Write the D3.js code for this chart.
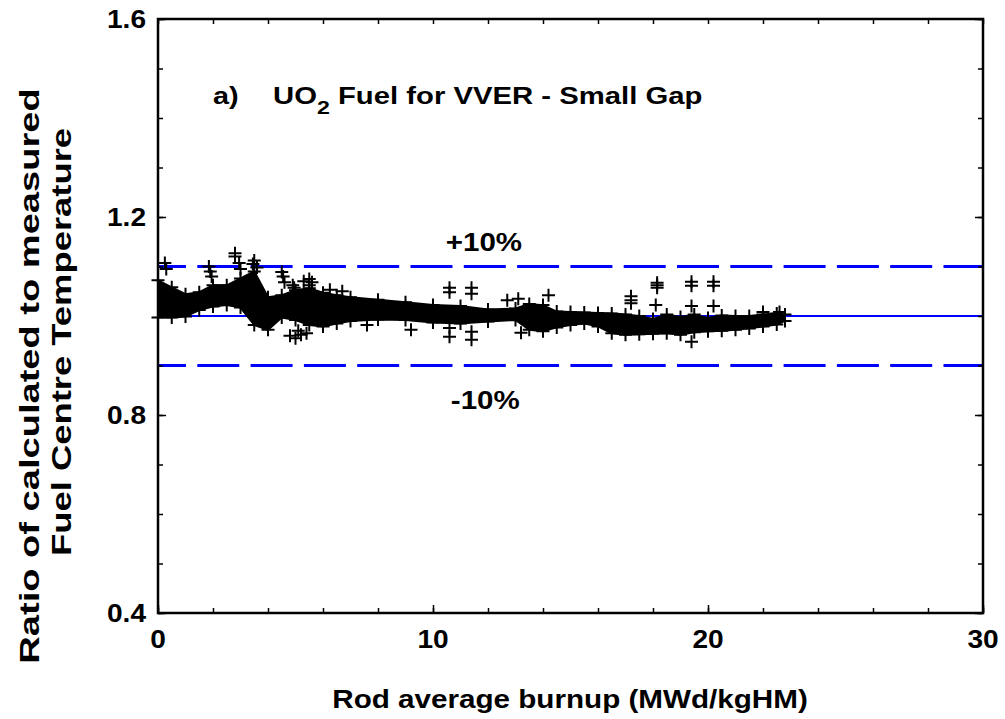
<!DOCTYPE html>
<html lang="en">
<head>
  <meta charset="UTF-8">
  <title>Fuel centre temperature ratio</title>
  <script src="https://d3js.org/d3.v7.min.js"></script>
  <style>
    body { margin: 0; background: #fff; }
    text { font-family: "Liberation Sans", Arial, sans-serif; font-weight: bold; fill: #000; }
  </style>
</head>
<body>
<script>
  // dense band of measurements: burnup vs upper / lower edge of the cloud
  const bandBurnup = [0, 0.5, 1, 1.5, 2, 2.5, 3, 3.5, 4, 4.5, 5, 5.5, 6, 6.5, 7, 8, 9, 10, 11, 12,
    13, 13.5, 14, 14.5, 15, 15.5, 16, 16.5, 17, 17.5, 18, 18.5, 19, 19.5, 20, 20.5, 21, 21.5, 22, 22.5, 22.8];
  const bandHigh = [1.072, 1.058, 1.044, 1.048, 1.062, 1.062, 1.076, 1.09, 1.038, 1.042, 1.052, 1.056, 1.047, 1.042, 1.038, 1.033, 1.028, 1.022, 1.02, 1.013,
    1.015, 1.024, 1.022, 1.009, 1.008, 1.007, 1.006, 1.005, 1.003, 1.0, 0.994, 1.003, 0.998, 1.003, 0.996, 1.001, 1.0, 1.0, 1.003, 1.005, 1.003];
  const bandLow = [0.997, 0.997, 0.999, 1.012, 1.019, 1.022, 1.017, 0.982, 0.972, 0.997, 0.992, 0.982, 0.979, 0.985, 0.99, 0.993, 0.992, 0.987, 0.985, 0.989,
    0.992, 0.972, 0.969, 0.977, 0.982, 0.985, 0.979, 0.965, 0.962, 0.963, 0.964, 0.965, 0.962, 0.967, 0.969, 0.97, 0.972, 0.975, 0.979, 0.983, 0.99];

  // isolated points around the band
  const ptBurnup = [0.25, 0.3, 1.85, 1.9, 1.95, 2.8, 2.8, 2.95, 3.0, 3.45, 3.5, 3.6, 3.5, 3.6,
    4.5, 4.55, 4.6, 4.9, 4.95, 5.3, 5.5, 5.6, 5.5, 6.25, 6.7,
    4.8, 5.0, 5.2, 5.1, 5.4, 7.6, 9.2,
    10.6, 10.6, 10.6, 10.6, 11.4, 11.4, 11.4, 11.4, 12.7, 13.2, 14.2, 13.1,
    17.2, 17.2, 17.2, 18.15, 18.15, 18.15, 19.4, 19.4, 20.2, 20.2, 22.0, 22.6,
    18.1, 19.4, 20.2, 19.4];
  const ptRatio = [1.107, 1.095, 1.1, 1.09, 1.08, 1.127, 1.12, 1.107, 1.095, 1.105, 1.112, 1.098, 1.062, 1.055,
    1.089, 1.08, 1.068, 1.062, 1.057, 1.07, 1.075, 1.068, 1.062, 1.053, 1.05,
    0.96, 0.955, 0.962, 0.97, 0.965, 0.982, 0.972,
    1.057, 1.048, 0.976, 0.958, 1.057, 1.045, 0.968, 0.952, 1.032, 0.966, 1.042, 1.035,
    1.04, 1.032, 1.026, 1.067, 1.062, 1.057, 1.069, 1.061, 1.069, 1.061, 1.008, 1.008,
    1.022, 1.02, 1.02, 0.948];

  // reference lines: perfect agreement and +/-10%
  const refValues = [1.1, 1.0, 0.9];
  const refDashed = [true, false, true];

  const xTicks = [0, 10, 20, 30];
  const yTicks = [0.4, 0.8, 1.2, 1.6];

  const width = 1005, height = 719;
  const margin = {left: 158, right: 22, top: 19, bottom: 106};
  const xMax = width - margin.left - margin.right;
  const yMax = height - margin.top - margin.bottom;

  const svg = d3.select('body').append('svg')
    .attr('width', width)
    .attr('height', height);

  const g = svg.append('g')
    .attr('transform', 'translate(' + margin.left + ',' + margin.top + ')');

  const x = d3.scaleLinear().domain([0, 30]).range([0, xMax]);
  const y = d3.scaleLinear().domain([0.4, 1.6]).range([yMax, 0]);

  // text that is a bit wider than the font (the original was stretched)
  function label(parent, px, py, str, size, sx, anchor, rot) {
    return parent.append('text')
      .attr('transform', 'translate(' + px + ',' + py + ')' + (rot ? ' rotate(' + rot + ')' : '') + ' scale(' + sx + ',1)')
      .attr('text-anchor', anchor || 'start')
      .style('font-size', size + 'px')
      .text(str);
  }

  // reference lines
  g.selectAll('.ref')
    .data(refValues)
    .join('line')
    .attr('x1', 0)
    .attr('x2', xMax)
    .attr('y1', d => y(d))
    .attr('y2', d => y(d))
    .attr('stroke', '#0000ff')
    .attr('stroke-width', (d, i) => refDashed[i] ? 3 : 2)
    .attr('stroke-dasharray', (d, i) => refDashed[i] ? '42 11.3' : null)
    .attr('stroke-dashoffset', 14);

  // band of points
  const band = bandBurnup.map((b, i) => ({x: b, hi: bandHigh[i], lo: bandLow[i]}));
  g.append('path')
    .datum(band)
    .attr('fill', '#000')
    .attr('stroke', '#000')
    .attr('stroke-width', 2)
    .attr('d', d3.area()
      .x(d => x(d.x))
      .y0(d => y(d.lo))
      .y1(d => y(d.hi)));

  // edge points of the band + isolated points, drawn as crosses
  const pts = ptBurnup.map((b, i) => ({x: b, y: ptRatio[i]}))
    .concat(band.map(d => ({x: d.x, y: d.hi})))
    .concat(band.map(d => ({x: d.x, y: d.lo})));
  g.selectAll('.pt')
    .data(pts)
    .join('path')
    .attr('transform', d => 'translate(' + x(d.x) + ',' + y(d.y) + ')')
    .attr('d', 'M-6.5,0H6.5M0,-6.5V6.5')
    .attr('stroke', '#000')
    .attr('stroke-width', 2);

  // ticks (inward, on all four sides)
  const xMinor = d3.range(0, 30.01, 2);
  const yMinor = d3.range(4, 16.01, 1).map(v => v / 10);

  g.append('g')
    .attr('transform', 'translate(0,' + yMax + ')')
    .call(d3.axisBottom(x).tickValues(xMinor).tickSize(-5).tickFormat(''));
  g.append('g')
    .call(d3.axisTop(x).tickValues(xMinor).tickSize(-5).tickFormat(''));
  g.append('g')
    .call(d3.axisLeft(y).tickValues(yMinor).tickSize(-5).tickFormat(''));
  g.append('g')
    .attr('transform', 'translate(' + xMax + ',0)')
    .call(d3.axisRight(y).tickValues(yMinor).tickSize(-5).tickFormat(''));

  g.append('g')
    .attr('transform', 'translate(0,' + yMax + ')')
    .call(d3.axisBottom(x).tickValues(xTicks).tickSize(-8).tickFormat(''));
  g.append('g')
    .call(d3.axisLeft(y).tickValues(yTicks).tickSize(-8).tickFormat(''));
  g.append('g')
    .attr('transform', 'translate(' + xMax + ',0)')
    .call(d3.axisRight(y).tickValues(yTicks).tickSize(-8).tickFormat(''));

  g.selectAll('.domain').remove();
  g.selectAll('.tick line').attr('stroke', '#000').attr('stroke-width', 1.5);

  // tick labels
  xTicks.forEach(v => label(g, x(v), yMax + 35, d3.format('d')(v), 26, 1.08, 'middle'));
  yTicks.forEach(v => label(g, -12, y(v) + 9, d3.format('.1f')(v), 26, 1.08, 'end'));

  // frame
  g.append('rect')
    .attr('width', xMax)
    .attr('height', yMax)
    .attr('fill', 'none')
    .attr('stroke', '#000')
    .attr('stroke-width', 2.5);

  // annotations
  label(g, 55, 85, 'a)', 24, 1.2);
  const title = label(g, 115, 85, '', 24, 1.22);
  title.append('tspan').text('UO');
  title.append('tspan').attr('dy', 10).style('font-size', '19px').text('2');
  title.append('tspan').attr('dy', -10).text(' Fuel for VVER - Small Gap');

  label(g, x(11.85), y(1.1) - 16, '+10%', 25, 1.18, 'middle');
  label(g, x(11.9), y(0.9) + 43, '-10%', 25, 1.18, 'middle');

  // axis titles
  label(svg, 570, 708, 'Rod average burnup (MWd/kgHM)', 26, 1.14, 'middle');

  label(svg, 39, 376, 'Ratio of calculated to measured', 28, 1.36, 'middle', -90);
  label(svg, 71, 342, 'Fuel Centre Temperature', 28, 1.30, 'middle', -90);
</script>
</body>
</html>
